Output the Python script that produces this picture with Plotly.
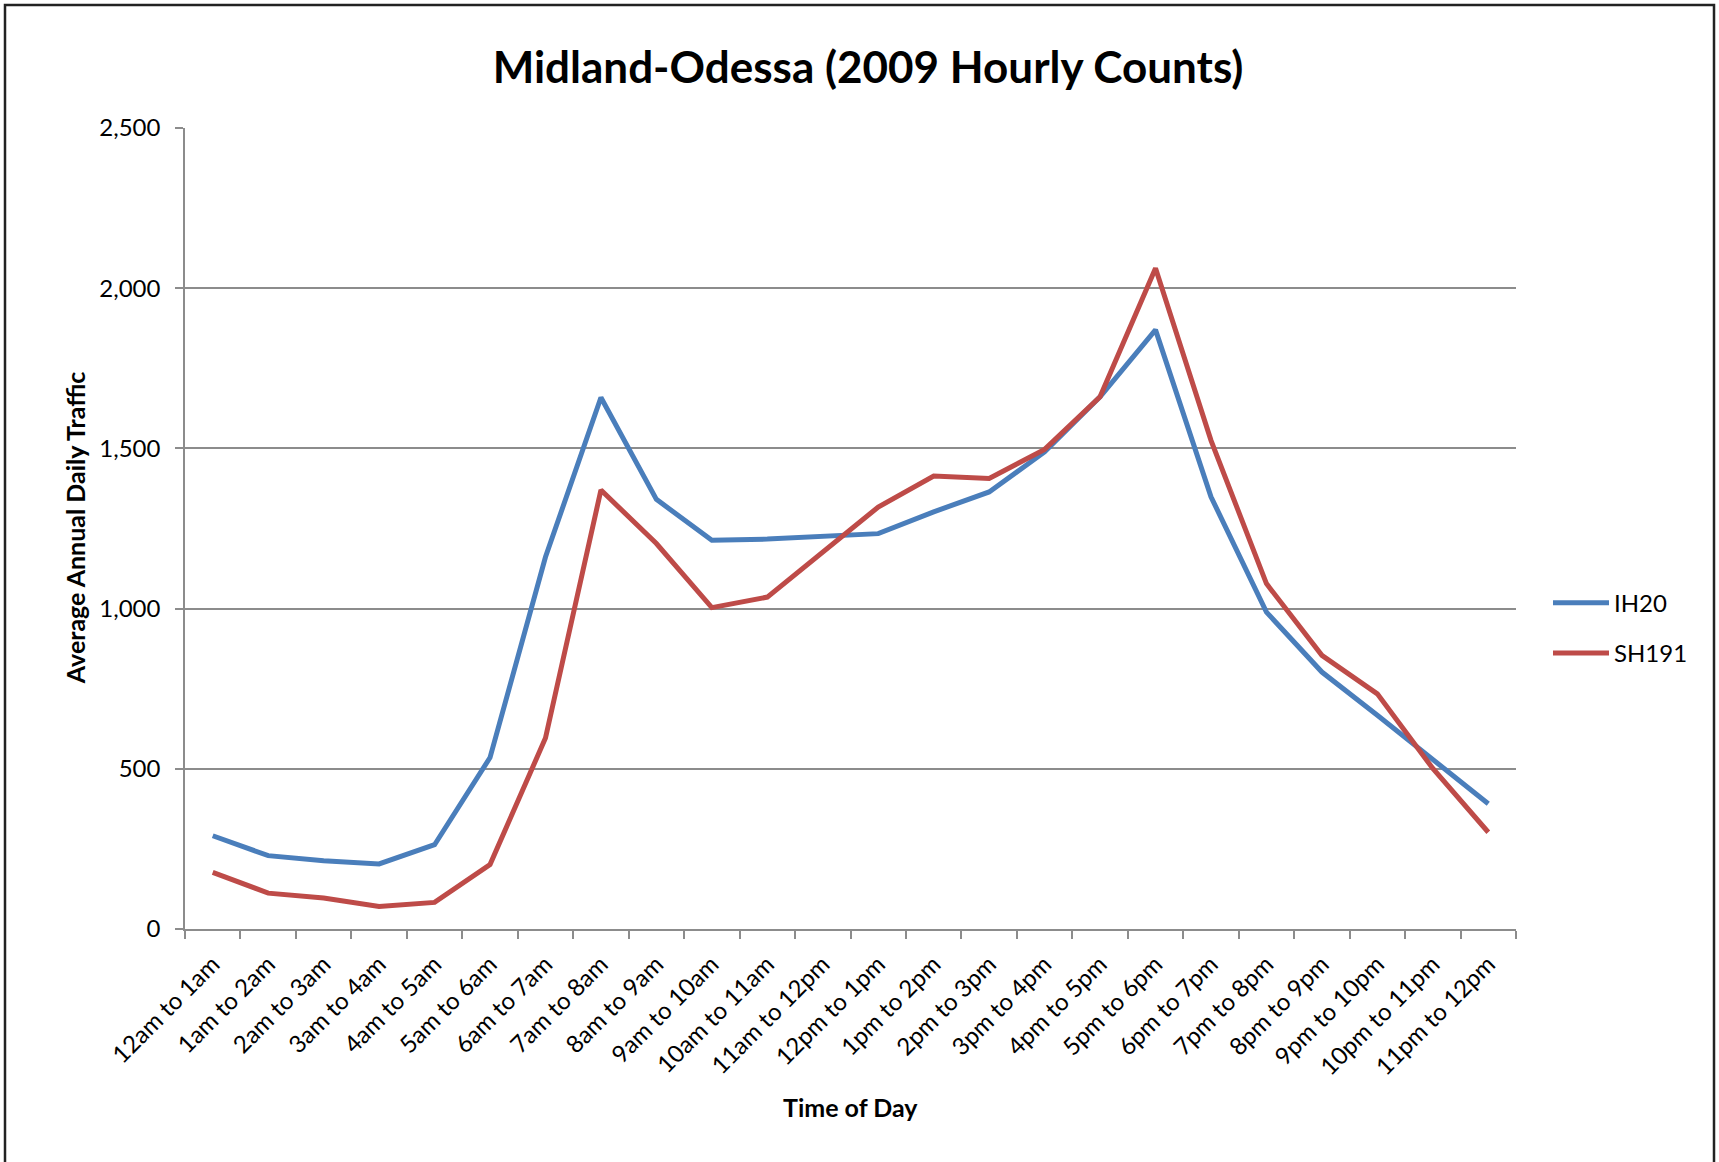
import plotly.graph_objects as go

categories = ["12am to 1am", "1am to 2am", "2am to 3am", "3am to 4am", "4am to 5am", "5am to 6am",
              "6am to 7am", "7am to 8am", "8am to 9am", "9am to 10am", "10am to 11am", "11am to 12pm",
              "12pm to 1pm", "1pm to 2pm", "2pm to 3pm", "3pm to 4pm", "4pm to 5pm", "5pm to 6pm",
              "6pm to 7pm", "7pm to 8pm", "8pm to 9pm", "9pm to 10pm", "10pm to 11pm", "11pm to 12pm"]

ih20 = [291, 229, 213, 203, 263, 535, 1161, 1659, 1341, 1213, 1217, 1225,
        1234, 1302, 1364, 1489, 1661, 1870, 1349, 989, 802, 667, 527, 391]

sh191 = [177, 112, 97, 70, 83, 201, 596, 1370, 1203, 1003, 1036, 1177,
         1317, 1414, 1406, 1497, 1661, 2062, 1525, 1078, 854, 734, 501, 302]

y_ticks = [0, 500, 1000, 1500, 2000, 2500]

FONT = "Lato, 'Open Sans', sans-serif"
GRID = "#8c8c8c"

W, H = 1719, 1162
# plot area in page pixels
L, R, T, B = 185, 1516, 128, 928.6

def px(xp):
    return (xp - L) / (R - L)

def py(yp):
    return (B - yp) / (B - T)

fig = go.Figure()
fig.add_trace(go.Scatter(x=categories, y=ih20, mode="lines", name="IH20", legendgroup="a",
                         line=dict(color="#4A7EBB", width=5)))
fig.add_trace(go.Scatter(x=categories, y=sh191, mode="lines", name="SH191", legendgroup="b",
                         line=dict(color="#BE4B48", width=5)))

fig.update_layout(
    width=W, height=H,
    margin=dict(l=L, r=W - R, t=T, b=H - B, autoexpand=False),
    paper_bgcolor="white", plot_bgcolor="white",
    font=dict(family=FONT, color="black", size=24),
    title=dict(text="<b>Midland-Odessa (2009 Hourly Counts)</b>",
               font=dict(family=FONT, size=44, color="black"),
               x=px(868), xref="paper", xanchor="center",
               y=1 - 68 / H, yref="container", yanchor="middle"),
    legend=dict(x=px(1548), y=py(628), xanchor="left", yanchor="middle",
                font=dict(family=FONT, size=24, color="black"),
                bgcolor="rgba(0,0,0,0)", traceorder="grouped", tracegroupgap=16,
                itemwidth=56),
    showlegend=True,
)

fig.update_xaxes(
    type="category", range=[-0.5, len(categories) - 0.5],
    showline=True, linecolor=GRID, linewidth=1.5,
    showgrid=False, ticks="outside", ticklen=8, tickcolor=GRID, tickwidth=1.5,
    tickson="boundaries", tickangle=-45, ticklabelstandoff=10,
    tickfont=dict(family=FONT, size=24, color="black"),
    zeroline=False,
)
fig.update_yaxes(
    range=[0, 2500], tickvals=y_ticks, tickformat=",",
    showline=True, linecolor=GRID, linewidth=1.5,
    showgrid=True, gridcolor=GRID, gridwidth=1.5,
    ticks="outside", ticklen=8, tickcolor=GRID, tickwidth=1.5,
    ticklabelstandoff=10,
    tickfont=dict(family=FONT, size=24, color="black"),
    zeroline=False,
)

fig.add_annotation(text="<b>Average Annual Daily Traffic</b>", xref="paper", yref="paper",
                   x=px(75), y=py(528), textangle=-90, showarrow=False,
                   xanchor="center", yanchor="middle",
                   font=dict(family=FONT, size=25, color="black"))
fig.add_annotation(text="<b>Time of Day</b>", xref="paper", yref="paper",
                   x=px(850), y=py(1107), showarrow=False,
                   xanchor="center", yanchor="middle",
                   font=dict(family=FONT, size=25, color="black"))

fig.add_shape(type="rect", xref="paper", yref="paper",
              x0=px(5), x1=px(1714), y0=py(1200), y1=py(5),
              line=dict(color="#222222", width=2.5), fillcolor="rgba(0,0,0,0)", layer="below")

fig.write_html("out.html",
               config={"displayModeBar": False},
               post_script="document.body.style.margin='0';document.body.style.overflow='hidden';")
